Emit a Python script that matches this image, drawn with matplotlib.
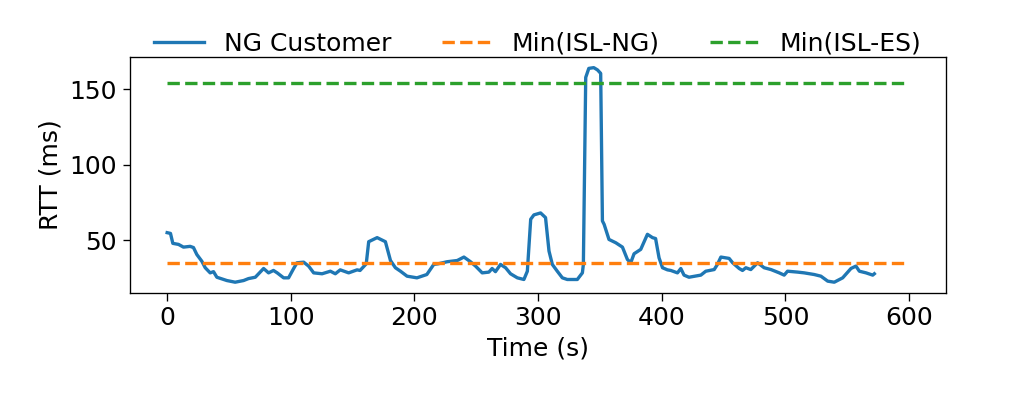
import numpy as np
import matplotlib
matplotlib.use("Agg")
import matplotlib.pyplot as plt

# RTT of the NG customer over time
t = [0, 2.7, 4.6, 9.2, 13.2, 18.6, 21.3, 24, 28, 30.8, 34.8, 37.5, 40.2, 48.3, 55,
     61.8, 65.8, 71.3, 78, 82, 86, 89, 94.2, 98.2, 102.3, 105, 110.4, 114.4, 118.5,
     125.3, 132, 136, 140, 146.8, 153.6, 156, 161, 163, 169.8, 176.5, 180.6, 184.6,
     188.7, 194, 202, 210, 215.6, 219, 226.5, 234.6, 240, 245.3, 249.4, 254.8, 260.2,
     262.8, 265.5, 269.6, 273.7, 277.7, 283.2, 288.5, 291.3, 294, 296.6, 302, 306,
     308.8, 311.5, 315.5, 319.6, 323.6, 331.7, 335.8, 336.6, 338.5, 341, 345, 348,
     350.6, 352, 353.4, 357.3, 362.8, 368.2, 372.2, 374.9, 377.6, 383, 388.4, 392.5,
     395, 397.8, 400.6, 404.6, 407.3, 412.7, 415.4, 418, 422, 431.6, 435.6, 442.4,
     445, 447.8, 454.5, 457.3, 462.6, 465.3, 468, 472, 477.5, 482.8, 488.3, 495, 499,
     501.7, 509.9, 515.2, 523.3, 528.7, 534.2, 539.5, 546.3, 553, 557, 559.8, 565.2,
     570.6, 571.9]
rtt = [54.9, 54.4, 47.8, 47.1, 45.3, 45.8, 45, 40.4, 36, 31.6, 28.2, 29, 25.3, 23.1, 22,
       23.1, 24.4, 25.3, 31.1, 28.2, 29.8, 28.2, 24.9, 24.9, 31.1, 34.9, 35.3, 32.7, 28.2,
       27.6, 29.3, 27.6, 30.2, 28.2, 30.2, 29.8, 34.2, 48.9, 51.6, 48.9, 36.4, 31.6,
       29.3, 26, 24.9, 27.1, 33.8, 34.2, 35.6, 36.4, 38.7, 35.6, 32.7, 28.2, 28.7,
       31.1, 29, 33.8, 31.6, 27.6, 24.9, 23.8, 29.3, 63.8, 66.7, 68, 64.9,
       42.7, 33.8, 29.3, 24.9, 23.8, 23.8, 28.2, 33.8, 158, 164, 164.5, 163,
       160.7, 62.7, 60.4, 50.4, 48.2, 45.3, 37.1, 34.9, 40.9, 43.8, 53.8, 51.6,
       51, 38.2, 31.6, 30.2, 29.8, 28.2, 31.1, 26.7, 25.3, 26.7, 29.3, 30.4,
       33.8, 38.7, 37.8, 34.9, 31.1, 29.8, 31.6, 30.4, 34.9, 31.6, 30.4, 28.2, 26.7,
       29.3, 28.7, 28.2, 27.1, 26, 22.7, 22, 24.9, 31.1, 32.7, 29.3, 28.2,
       26.7, 27.6]

min_isl_ng = 34.7
min_isl_es = 154.5
span = [0, 600]

plt.rcParams['font.size'] = 15
plt.rcParams['xtick.major.size'] = 4.5
plt.rcParams['ytick.major.size'] = 4.5

fig = plt.figure(figsize=(1024 / 120, 398 / 120), dpi=120)
ax = fig.add_axes([0.127, 0.264, 0.797, 0.593])
ax.plot(t, rtt, color='#1f77b4', lw=2, label="NG Customer")
ax.plot(span, [min_isl_ng] * 2, '--', color='#ff7f0e', lw=2, label="Min(ISL-NG)")
ax.plot(span, [min_isl_es] * 2, '--', color='#2ca02c', lw=2, label="Min(ISL-ES)")
ax.set_xlabel("Time (s)")
ax.set_ylabel("RTT (ms)")
ax.set_yticks([50, 100, 150])
ax.legend(loc='lower center', bbox_to_anchor=(0.5, 0.91), ncol=3, frameon=False)
fig.savefig('out.png', dpi=120)
